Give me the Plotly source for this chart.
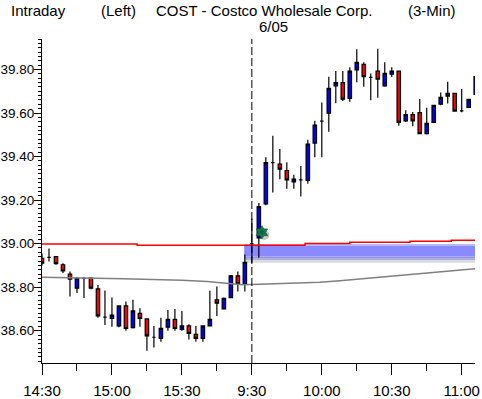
import plotly.graph_objects as go

# ---------------- data ----------------
bar_index = list(range(63))
tick_pos = [0, 10, 20, 30, 40, 50, 60]
tick_labels = ["14:30", "15:00", "15:30", "9:30", "10:00", "10:30", "11:00"]

opens = [38.932, 38.937, 38.940, 38.903, 38.860, 38.796, 38.840, 38.842, 38.792, 38.662,
         38.657, 38.622, 38.714, 38.614, 38.680, 38.654, 38.570, 38.565, 38.616, 38.652,
         38.606, 38.622, 38.583, 38.565, 38.622, 38.742, 38.700, 38.752, 38.852, 38.814,
         39.000, 39.026, 39.182, 39.372, 39.365, 39.336, 39.283, 39.293, 39.290, 39.462,
         39.563, 39.599, 39.725, 39.740, 39.667, 39.798, 39.824, 39.764, 39.792, 39.725,
         39.778, 39.792, 39.564, 39.593, 39.602, 39.505, 39.557, 39.641, 39.678, 39.690,
         39.610, 39.626, 39.686]
highs = [38.955, 38.978, 38.942, 38.910, 38.872, 38.845, 38.846, 38.845, 38.810, 38.785,
         38.752, 38.716, 38.734, 38.742, 38.703, 38.656, 38.622, 38.660, 38.695, 38.700,
         38.690, 38.630, 38.622, 38.624, 38.783, 38.803, 38.752, 38.856, 38.872, 38.950,
         39.115, 39.187, 39.397, 39.495, 39.435, 39.374, 39.316, 39.357, 39.477, 39.565,
         39.648, 39.767, 39.793, 39.793, 39.810, 39.893, 39.833, 39.782, 39.895, 39.833,
         39.810, 39.792, 39.613, 39.605, 39.664, 39.624, 39.635, 39.694, 39.744, 39.690,
         39.710, 39.663, 39.780]
lows = [38.900, 38.918, 38.903, 38.865, 38.757, 38.773, 38.750, 38.790, 38.660, 38.626,
        38.618, 38.616, 38.600, 38.610, 38.618, 38.508, 38.523, 38.549, 38.600, 38.600,
        38.600, 38.560, 38.549, 38.549, 38.620, 38.668, 38.697, 38.750, 38.780, 38.780,
        38.912, 38.935, 39.176, 39.235, 39.296, 39.252, 39.252, 39.216, 39.275, 39.397,
        39.397, 39.514, 39.645, 39.655, 39.652, 39.741, 39.721, 39.659, 39.670, 39.721,
        39.765, 39.541, 39.559, 39.539, 39.502, 39.501, 39.555, 39.636, 39.644, 39.607,
        39.604, 39.623, 39.680]
closes = [38.910, 38.937, 38.908, 38.875, 38.837, 38.842, 38.840, 38.796, 38.668, 38.662,
          38.672, 38.714, 38.610, 38.691, 38.657, 38.576, 38.570, 38.611, 38.652, 38.610,
          38.622, 38.588, 38.565, 38.622, 38.652, 38.726, 38.749, 38.852, 38.815, 38.914,
          39.000, 39.170, 39.372, 39.372, 39.342, 39.293, 39.296, 39.293, 39.457, 39.545,
          39.563, 39.713, 39.740, 39.664, 39.792, 39.833, 39.767, 39.764, 39.755, 39.782,
          39.792, 39.557, 39.593, 39.564, 39.505, 39.552, 39.635, 39.672, 39.690, 39.609,
          39.610, 39.663, 39.767]

# red reference line (step vertices)
red_x = [0, 13.6, 37.6, 44.0, 52.6, 58.5, 61.9]
red_y = [38.998, 38.993, 39.000, 39.006, 39.011, 39.015, 39.015]

# gray average line vertices
gray_x = [0, 8.3, 11.6, 14.4, 20.0, 23.6, 26.6, 28.7, 31.1, 34.0, 36.9, 39.7,
          42.6, 45.4, 48.3, 51.1, 54.0, 56.9, 59.7, 61.9]
gray_y = [38.845, 38.842, 38.839, 38.836, 38.832, 38.826, 38.818, 38.811, 38.813, 38.816,
          38.819, 38.822, 38.830, 38.838, 38.848, 38.856, 38.864, 38.872, 38.879, 38.884]

# highlighted zone
zone_start = 28.9
zone_top = 38.998
zone_bottom = 38.912

# signal marker
signal_x = [31.43]
signal_y = [39.052]

session_break = 30
x_max = 61.9
y_min, y_max = 38.4516, 39.940

# ---------------- figure ----------------
fig = go.Figure()

layers = [(0.00, 0.10, "#b8b8ff"), (0.10, 0.66, "#8a8aff"), (0.66, 0.78, "#9393ea"),
          (0.78, 0.88, "#b0b0d0"), (0.88, 1.00, "#dadae2")]
span = zone_top - zone_bottom
for f0, f1, col in layers:
    fig.add_shape(type="rect", xref="x", yref="y", x0=zone_start, x1=x_max,
                  y0=zone_top - f1 * span, y1=zone_top - f0 * span,
                  fillcolor=col, line=dict(width=0), layer="below")

fig.add_trace(go.Scatter(x=gray_x, y=gray_y, mode="lines",
                         line=dict(color="#808080", width=1.5), hoverinfo="skip"))
fig.add_trace(go.Scatter(x=red_x, y=red_y, mode="lines", line_shape="hv",
                         line=dict(color="#ff0000", width=1.5), hoverinfo="skip"))

fig.add_trace(go.Candlestick(
    x=bar_index, open=opens, high=highs, low=lows, close=closes,
    increasing=dict(fillcolor="#0000ff", line=dict(color="#000000", width=1.2)),
    decreasing=dict(fillcolor="#ff0000", line=dict(color="#000000", width=1.2)),
    whiskerwidth=0, hoverinfo="skip"))

fig.add_trace(go.Scatter(x=[v + 0.35 for v in signal_x], y=[v - 0.012 for v in signal_y],
                         mode="markers",
                         marker=dict(symbol="circle", size=10, color="rgba(0,0,0,0.22)",
                                     line=dict(width=0)), hoverinfo="skip"))
fig.add_trace(go.Scatter(x=signal_x, y=signal_y, mode="markers",
                         marker=dict(symbol="hexagram", size=10, color="#1f8f5c",
                                     gradient=dict(type="radial", color="#0c5a38"),
                                     line=dict(color="#0c5a38", width=0.8)),
                         hoverinfo="skip"))

fig.add_shape(type="line", xref="x", yref="paper", x0=session_break, x1=session_break,
              y0=0, y1=1, line=dict(color="black", width=1, dash="8px,3px"), layer="above")

x_font = dict(family="Liberation Sans, Arial, sans-serif", size=15, color="black")
y_font = dict(family="Liberation Sans, Arial, sans-serif", size=13.5, color="black")
title_font = dict(family="Liberation Sans, Arial, sans-serif", size=15, color="black")

W, H = 482, 399
ml, mr, mt, mb = 42, 7, 39, 36
pw, ph = W - ml - mr, H - mt - mb

def px(xp):
    return (xp - ml) / pw

def py(yp):
    return (H - mb - yp) / ph

titles = [("Intraday", 9), ("(Left)", 99), ("COST - Costco Wholesale Corp.", 154), ("(3-Min)", 406)]
for txt, xp in titles:
    fig.add_annotation(text=txt, xref="paper", yref="paper", x=px(xp), y=py(10),
                       xanchor="left", yanchor="middle", showarrow=False, font=title_font)
fig.add_annotation(text="6/05", xref="paper", yref="paper", x=px(257), y=py(26),
                   xanchor="left", yanchor="middle", showarrow=False, font=title_font)

fig.update_layout(
    width=W, height=H, margin=dict(l=ml, r=mr, t=mt, b=mb, autoexpand=False),
    paper_bgcolor="white", plot_bgcolor="white", showlegend=False,
    hovermode=False,
    xaxis=dict(range=[0, x_max], rangeslider=dict(visible=False), showgrid=False,
               automargin=False, ticklabeloverflow="allow", ticklabelstandoff=3,
               zeroline=False, showline=True, linecolor="black", linewidth=1,
               tickmode="array", tickvals=tick_pos, ticktext=tick_labels,
               ticks="outside", ticklen=11, tickwidth=1, tickcolor="black",
               minor=dict(dtick=5, tick0=0, ticks="outside", ticklen=7, tickcolor="black",
                          showgrid=False),
               tickfont=x_font),
    yaxis=dict(range=[y_min, y_max], showgrid=False, zeroline=False, showline=True,
               automargin=False, ticklabeloverflow="allow", ticklabelstandoff=-3,
               linecolor="black", linewidth=1, tick0=38.6, dtick=0.2, tickformat=".2f",
               ticks="outside", ticklen=7, tickwidth=1, tickcolor="black",
               minor=dict(dtick=0.02, tick0=38.6, ticks="outside", ticklen=3,
                          tickcolor="black", showgrid=False),
               tickfont=y_font),
)

fig.write_html("out.html", config={"displayModeBar": False},
               post_script="document.body.style.margin='0px';"
                           "document.body.style.overflow='hidden';")
